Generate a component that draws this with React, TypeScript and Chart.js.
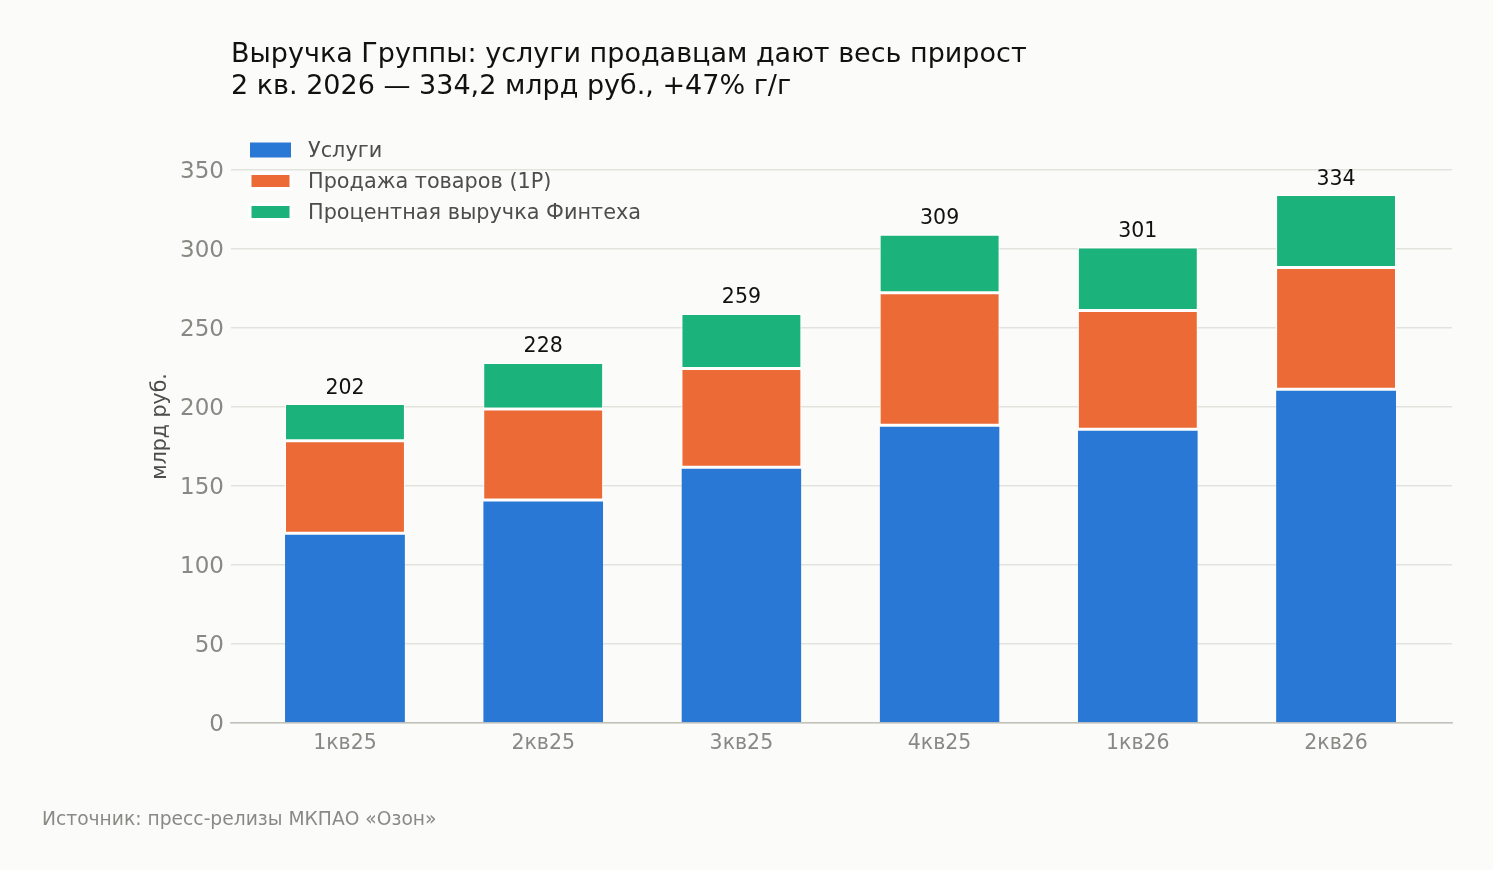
import React, { useEffect, useRef } from 'react';
import { Chart, registerables } from 'chart.js';

Chart.register(...registerables);

// Ozon group revenue by quarter, bn RUB
const quarters = ['1кв25', '2кв25', '3кв25', '4кв25', '1кв26', '2кв26'];
const services = [120, 141, 161.7, 188.3, 185.8, 211];
const goodsSales = [58.5, 57.5, 62.4, 83.8, 75, 77.1];
const fintechInterest = [23.5, 29.5, 34.9, 37, 40.2, 46.1];

const seriesNames = ['Услуги', 'Продажа товаров (1P)', 'Процентная выручка Финтеха'];
const seriesColors = ['#2a78d6', '#eb6a36', '#1cb27b'];

const titleLines = [
  'Выручка Группы: услуги продавцам дают весь прирост',
  '2 кв. 2026 — 334,2 млрд руб., +47% г/г'
];
const yAxisTitle = 'млрд руб.';
const sourceNote = 'Источник: пресс-релизы МКПАО «Озон»';

const FONT = '"DejaVu Sans", sans-serif';
const BG = '#fbfbf9';
const TICK_COLOR = '#898984';

const totals = quarters.map((_, i) => services[i] + goodsSales[i] + fintechInterest[i]);

// page background + title, y title, source, legend, totals
const decorPlugin = {
  id: 'decor',
  beforeDraw(chart: Chart) {
    const { ctx } = chart;
    ctx.save();
    ctx.fillStyle = BG;
    ctx.fillRect(0, 0, chart.width, chart.height);
    ctx.restore();
  },
  afterDatasetsDraw(chart: Chart) {
    const { ctx } = chart;
    const top = chart.getDatasetMeta(2);
    ctx.save();
    ctx.fillStyle = '#111';
    ctx.font = `20.5px ${FONT}`;
    ctx.textAlign = 'center';
    ctx.textBaseline = 'alphabetic';
    top.data.forEach((bar: any, i: number) => {
      ctx.fillText(String(Math.round(totals[i])), bar.x, bar.y - 10);
    });
    ctx.restore();
  },
  afterDraw(chart: Chart) {
    const { ctx, chartArea } = chart;
    ctx.save();

    // title
    ctx.fillStyle = '#111';
    ctx.font = `27px ${FONT}`;
    ctx.textAlign = 'left';
    ctx.textBaseline = 'alphabetic';
    ctx.fillText(titleLines[0], 231, 62);
    ctx.fillText(titleLines[1], 231, 94);

    // y axis title
    ctx.save();
    ctx.translate(161, (chartArea.top + chartArea.bottom) / 2);
    ctx.rotate(-Math.PI / 2);
    ctx.fillStyle = '#4d4d4d';
    ctx.font = `20.5px ${FONT}`;
    ctx.textAlign = 'center';
    ctx.textBaseline = 'middle';
    ctx.fillText(yAxisTitle, 0, 0);
    ctx.restore();

    // source
    ctx.fillStyle = '#8a8a85';
    ctx.font = `18.7px ${FONT}`;
    ctx.fillText(sourceNote, 42, 825);

    // legend
    chart.data.datasets.forEach((ds: any, i: number) => {
      const cy = 150 + i * 31;
      ctx.fillStyle = ds.backgroundColor;
      ctx.fillRect(250, cy - 7.5, 41, 15);
      if (i > 0) {
        ctx.strokeStyle = '#ffffff';
        ctx.lineWidth = 3;
        ctx.strokeRect(250, cy - 7.5, 41, 15);
      }
      ctx.fillStyle = '#4d4d4d';
      ctx.font = `20.8px ${FONT}`;
      ctx.textBaseline = 'middle';
      ctx.fillText(ds.label, 308, cy + 1.5);
    });

    ctx.restore();
  }
};

const App: React.FC = () => {
  const canvasRef = useRef<HTMLCanvasElement>(null);
  const chartRef = useRef<Chart | null>(null);

  useEffect(() => {
    document.body.style.margin = '0';
    document.body.style.background = BG;
    const ctx = canvasRef.current?.getContext('2d');
    if (!ctx) return;
    if (chartRef.current) chartRef.current.destroy();

    const values = [services, goodsSales, fintechInterest];

    chartRef.current = new Chart(ctx, {
      type: 'bar',
      data: {
        datasets: values.map((arr, k) => ({
          label: seriesNames[k],
          data: arr.map((v, i) => ({ x: i, y: v })),
          backgroundColor: seriesColors[k],
          borderColor: '#ffffff',
          borderWidth: k === 0
            ? { top: 1.5, bottom: 0, left: 0, right: 0 }
            : { top: 1.5, bottom: 1.5, left: 1, right: 1 },
          borderSkipped: false,
          barPercentage: 0.605,
          categoryPercentage: 1
        }))
      },
      options: {
        responsive: false,
        animation: false,
        layout: { padding: { left: 0, right: 41, top: 130, bottom: 0 } },
        plugins: {
          legend: { display: false },
          tooltip: { enabled: false }
        },
        scales: {
          x: {
            type: 'linear',
            stacked: true,
            offset: false,
            min: -0.575,
            max: 5.585,
            afterBuildTicks: (axis: any) => {
              axis.ticks = quarters.map((_, i) => ({ value: i }));
            },
            afterFit: (scale: any) => {
              scale.height = 147;
            },
            ticks: {
              callback: (v: any) => quarters[v] ?? '',
              color: TICK_COLOR,
              font: { family: FONT, size: 20.5 },
              padding: 0,
              autoSkip: false,
              maxRotation: 0
            },
            grid: { display: false, offset: false },
            border: { display: true, color: '#c2c2ba', width: 1.5 }
          },
          y: {
            stacked: true,
            min: 0,
            max: 375,
            afterBuildTicks: (axis: any) => {
              axis.ticks = axis.ticks.filter((t: any) => t.value <= 350);
            },
            afterFit: (scale: any) => {
              scale.width = 231;
            },
            ticks: {
              stepSize: 50,
              color: TICK_COLOR,
              font: { family: FONT, size: 23 },
              padding: 7,
              labelOffset: 2.5
            },
            grid: { color: '#e3e3dd', lineWidth: 1.5, drawTicks: false },
            border: { display: false }
          }
        }
      },
      plugins: [decorPlugin]
    });

    return () => {
      if (chartRef.current) {
        chartRef.current.destroy();
        chartRef.current = null;
      }
    };
  }, []);

  return (
    <div style={{ width: 1493, height: 870, background: BG }}>
      <canvas ref={canvasRef} width={1493} height={870} />
    </div>
  );
};

export default App;
